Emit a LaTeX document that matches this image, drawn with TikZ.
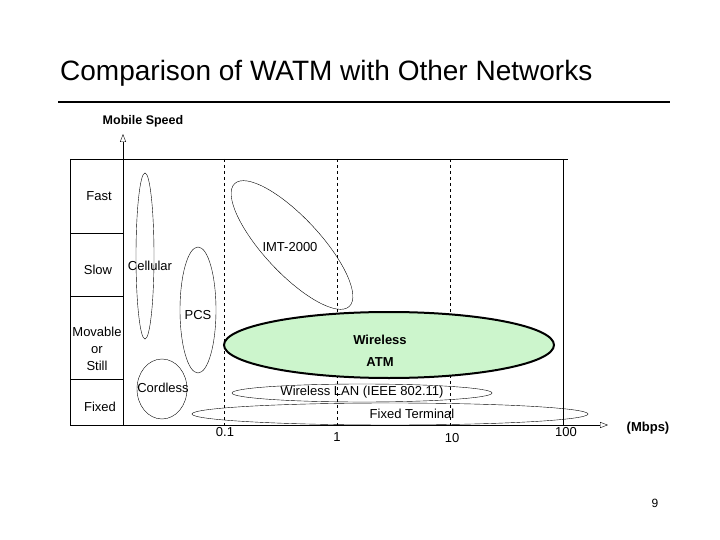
\documentclass[tikz,border=0pt]{standalone}
\usepackage{fontspec}
\setmainfont{Liberation Sans}
\usetikzlibrary{arrows.meta}
\definecolor{atmgreen}{HTML}{CCF5CC}
\begin{document}
\begin{tikzpicture}[x=1pt,y=-1pt,
  lbl/.style={font=\fontsize{13}{15}\selectfont,inner sep=0pt},
  ring/.style={draw,thin},
  axis/.style={thin,-{Triangle[open,length=8pt,width=6pt]}}]
\useasboundingbox (0,0) rectangle (720,540);
\node[anchor=west,font=\fontsize{28}{32}\selectfont,inner sep=0pt] (title) at (60,73) {Comparison of WATM with Other Networks};
\coordinate (l1) at (58,102); \coordinate (l2) at (670,102);
\draw[line width=2.5pt] (l1) -- (l2);
\node[lbl,font=\bfseries\fontsize{12.5}{14}\selectfont] (ms) at (143,121) {Mobile Speed};
% frame
\draw[thin] (70,159) -- (568,159);
\draw[thin] (563,159) -- (563,425);
\draw[thin] (70,159) -- (70,425);
\foreach \yy in {233,296,379} \draw[thin] (70,\yy) -- (123,\yy);
\coordinate (yb) at (123,425); \coordinate (yt) at (123,134);
\draw[axis] (yb) -- (yt);
\coordinate (xa) at (70,425); \coordinate (xb) at (608,425);
\draw[axis] (xa) -- (xb);
\foreach \xx in {224,337,450} \draw[dashed,thin] (\xx,159) -- (\xx,425);
\node[lbl,font=\bfseries\fontsize{13}{15}\selectfont] (mbps) at (648,428) {(Mbps)};
\node[lbl] (t01) at (225,432) {0.1};
\node[lbl] (t1) at (337,437) {1};
\node[lbl] (t10) at (452,438) {10};
\node[lbl] (t100) at (566,432) {100};
\node[lbl] (fast) at (99,196) {Fast};
\node[lbl] (slow) at (98,270) {Slow};
\node[lbl,align=center,font=\fontsize{13}{17}\selectfont] (mov) at (97,349) {Movable\\or\\Still};
\node[lbl] (fixed) at (100,407) {Fixed};
% ellipses
\draw[ring] (145,256) ellipse [x radius=9,y radius=83];
\node[lbl] (cell) at (150,266) {Cellular};
\draw[ring] (198,310) ellipse [x radius=18,y radius=63];
\node[lbl] (pcs) at (198,315) {PCS};
\draw[ring,rotate around={-47:(292,245)}] (292,245) ellipse [x radius=84,y radius=28];
\node[lbl] (imt) at (290,247) {IMT-2000};
\draw[ring] (162,389) ellipse [x radius=25,y radius=30];
\node[lbl] (cord) at (163,388) {Cordless};
\draw[line width=2pt,fill=atmgreen] (389,345) ellipse [x radius=165,y radius=33];
\node[lbl,font=\bfseries\fontsize{13}{15}\selectfont] (w) at (380,340) {Wireless};
\node[lbl,font=\bfseries\fontsize{13}{15}\selectfont] (atm) at (380,362) {ATM};
\draw[ring] (362,393) ellipse [x radius=130,y radius=9];
\node[lbl] (lan) at (362,392) {Wireless LAN (IEEE 802.11)};
\draw[ring] (390,414) ellipse [x radius=198,y radius=11];
\node[lbl] (ft) at (412,414) {Fixed Terminal};
\node[lbl,font=\fontsize{12}{14}\selectfont] (pg) at (655,503) {9};
\end{tikzpicture}
\end{document}
